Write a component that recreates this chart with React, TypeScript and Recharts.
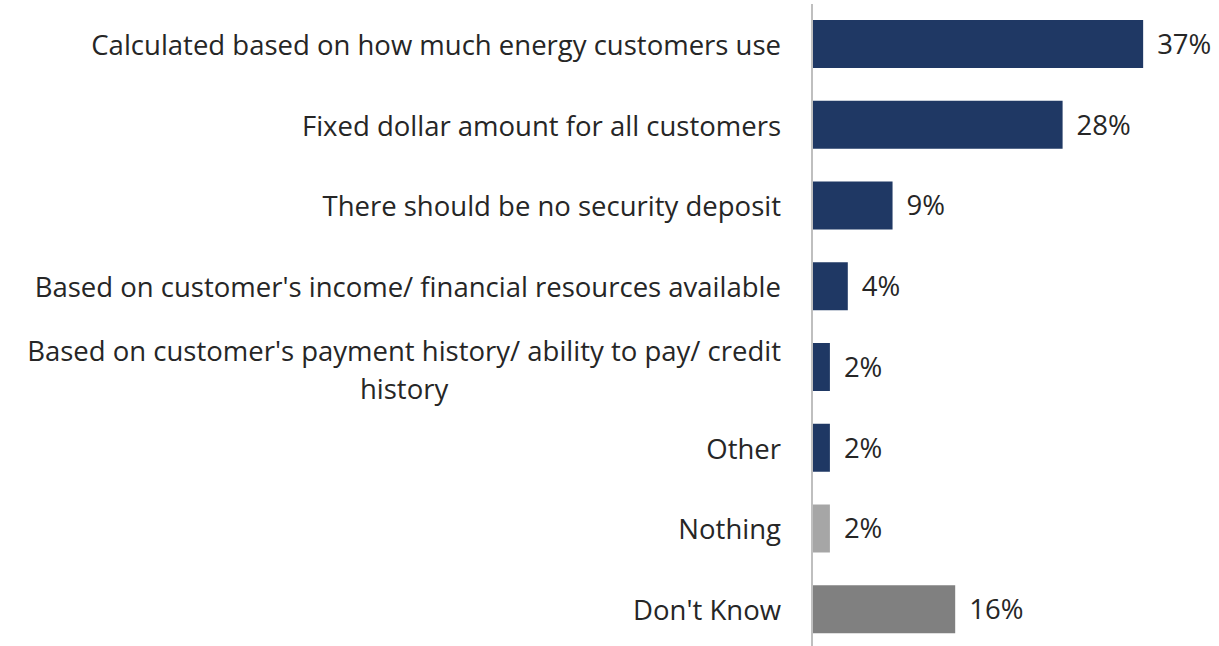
import { useLayoutEffect, useRef, useState } from "react";
import { BarChart, Bar, XAxis, YAxis, Cell, LabelList } from "recharts";

const categories = [
  "Calculated based on how much energy customers use",
  "Fixed dollar amount for all customers",
  "There should be no security deposit",
  "Based on customer's income/ financial resources available",
  "Based on customer's payment history/ ability to pay/ credit\nhistory",
  "Other",
  "Nothing",
  "Don't Know",
];
const values = [37, 28, 9, 4, 2, 2, 2, 16];
const colors = ["#1F3864", "#1F3864", "#1F3864", "#1F3864", "#1F3864", "#1F3864", "#A6A6A6", "#808080"];

const data = categories.map((name, i) => ({ name, value: values[i], color: colors[i] }));

const FONT = "'Open Sans', 'Noto Sans', sans-serif";
const TEXT = "#262626";
const FS = 27.5;

const CategoryTick = ({ x, y, payload }: any) => {
  const lines = String(payload.value).split("\n");
  const ref = useRef<SVGTSpanElement>(null);
  const [w, setW] = useState(0);
  useLayoutEffect(() => {
    if (ref.current) setW(ref.current.getComputedTextLength());
  }, []);
  if (lines.length === 1) {
    return (
      <text x={x} y={y} textAnchor="end" dominantBaseline="central" fill={TEXT} fontSize={FS} fontFamily={FONT}>
        {lines[0]}
      </text>
    );
  }
  // two-line label: block right-aligned, lines centred on each other
  return (
    <text fill={TEXT} fontSize={FS} fontFamily={FONT} dominantBaseline="central">
      <tspan ref={ref} x={x} y={y - 17} textAnchor="end">
        {lines[0]}
      </tspan>
      <tspan x={x - w / 2} y={y + 21} textAnchor="middle">
        {lines[1]}
      </tspan>
    </text>
  );
};

const App = () => {
  return (
    <div style={{ position: "absolute", left: 0, top: 0, width: 1219, height: 646, background: "#fff", overflow: "hidden" }}>
      <BarChart
        width={1219}
        height={650}
        data={data}
        layout="vertical"
        margin={{ top: 4, right: 49, bottom: 0, left: 0 }}
        barSize={48}
      >
        <XAxis type="number" domain={[0, 40]} hide />
        <YAxis
          type="category"
          dataKey="name"
          width={812}
          axisLine={{ stroke: "#BFBFBF", strokeWidth: 2 }}
          tickLine={false}
          tickSize={0}
          tickMargin={31}
          tick={<CategoryTick />}
          interval={0}
        />
        <Bar dataKey="value" isAnimationActive={false}>
          {data.map((d, i) => (
            <Cell key={i} fill={d.color} />
          ))}
          <LabelList
            dataKey="value"
            position="right"
            offset={14}
            formatter={(v: any) => `${v}%`}
            fill={TEXT}
            fontSize={FS}
            fontFamily={FONT}
          />
        </Bar>
      </BarChart>
    </div>
  );
};

export default App;
